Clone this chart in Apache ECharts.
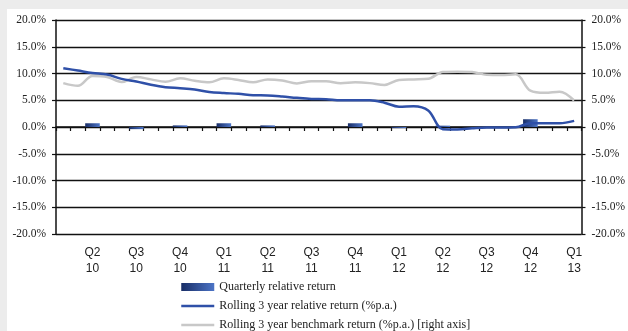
<!DOCTYPE html>
<html>
<head>
<meta charset="utf-8">
<script src="https://cdn.jsdelivr.net/npm/echarts@6/dist/echarts.min.js"></script>
<style>
  html, body { margin: 0; padding: 0; background: #ececec; }
  #chart { position: absolute; left: 7px; top: 9px; width: 621px; height: 322px; background: #ffffff; }
</style>
</head>
<body>
<div id="chart"></div>
<script>
// Month-end observations, April 2010 to March 2013
const months = [
  'Apr 10','May 10','Jun 10','Jul 10','Aug 10','Sep 10','Oct 10','Nov 10','Dec 10',
  'Jan 11','Feb 11','Mar 11','Apr 11','May 11','Jun 11','Jul 11','Aug 11','Sep 11',
  'Oct 11','Nov 11','Dec 11','Jan 12','Feb 12','Mar 12','Apr 12','May 12','Jun 12',
  'Jul 12','Aug 12','Sep 12','Oct 12','Nov 12','Dec 12','Jan 13','Feb 13','Mar 13'
];

// Quarter ends and their axis labels
const quarterMonths = ['Jun 10','Sep 10','Dec 10','Mar 11','Jun 11','Sep 11','Dec 11','Mar 12','Jun 12','Sep 12','Dec 12','Mar 13'];
const quarterTicks = ['Q2\n10','Q3\n10','Q4\n10','Q1\n11','Q2\n11','Q3\n11','Q4\n11','Q1\n12','Q2\n12','Q3\n12','Q4\n12','Q1\n13'];

// Quarterly relative return (%)
const quarterlyReturn = [0.7, -0.4, 0.3, 0.7, 0.3, 0.0, 0.7, -0.2, 0.25, 0.0, 1.45, 0.0];

// Rolling 3 year relative return (% p.a.), monthly
const rollingRelative = [
  11.0, 10.55, 10.1, 9.8, 9.0, 8.5, 7.9, 7.45, 7.25,
  7.0, 6.55, 6.35, 6.2, 5.95, 5.9, 5.7, 5.45, 5.25,
  5.2, 5.0, 5.0, 5.0, 4.55, 3.8, 3.9, 3.1, -0.4,
  -0.45, -0.25, -0.1, -0.1, -0.05, 0.7, 0.7, 0.7, 1.15
];

// Rolling 3 year benchmark return (% p.a.), monthly, right axis
const rollingBenchmark = [
  8.2, 7.7, 9.55, 9.35, 8.4, 9.35, 8.9, 8.45, 9.1,
  8.65, 8.35, 9.1, 8.8, 8.35, 8.9, 8.7, 8.15, 8.55,
  8.55, 8.2, 8.35, 8.2, 7.85, 8.8, 8.9, 9.0, 10.3,
  10.35, 10.3, 9.75, 9.7, 9.85, 6.8, 6.4, 6.6, 4.95
];

// Place each quarterly value on its quarter-end month
const barData = months.map(m => {
  const q = quarterMonths.indexOf(m);
  return q >= 0 ? quarterlyReturn[q] : null;
});

const serif = 'Liberation Serif';
const sans = 'Liberation Sans';
const ink = '#222222';
const relColor = '#2f50a8';
const benchColor = '#c8c8c8';

const chart = echarts.init(document.getElementById('chart'), null, { renderer: 'canvas' });

const pctAxis = (position) => ({
  type: 'value',
  position: position,
  min: -20,
  max: 20,
  interval: 5,
  axisLine: { show: true, lineStyle: { color: '#111', width: 1.5 } },
  axisTick: { show: true, length: 4, lineStyle: { color: '#111', width: 1.2 } },
  axisLabel: {
    margin: 10,
    fontFamily: serif,
    fontSize: 11.5,
    color: ink,
    formatter: v => v.toFixed(1) + '%'
  },
  splitLine: { show: position === 'left', lineStyle: { color: '#111', width: 1.3 } }
});

// Line legend entries show a plain stroke, no marker
const plainLine = color => ({ itemStyle: { opacity: 0 }, lineStyle: { color: color, width: 2.5 } });

chart.setOption({
  animation: false,
  grid: { left: 49, right: 44, top: 11, bottom: 97, containLabel: false },
  legend: {
    orient: 'vertical',
    left: 173,
    top: 268.5,
    height: 60,
    padding: 0,
    itemWidth: 33,
    itemHeight: 8,
    itemGap: 0,
    textStyle: { fontFamily: serif, fontSize: 12, color: ink, lineHeight: 19 },
    data: [
      { name: 'Quarterly relative return', icon: 'rect' },
      Object.assign({ name: 'Rolling 3 year relative return (%p.a.)' }, plainLine(relColor)),
      Object.assign({ name: 'Rolling 3 year benchmark return (%p.a.) [right axis]' }, plainLine(benchColor))
    ]
  },
  xAxis: [
    {
      type: 'category',
      data: months,
      position: 'bottom',
      axisLine: { show: false, onZero: false },
      axisTick: { show: false },
      axisLabel: {
        interval: 0,
        margin: 11,
        fontFamily: sans,
        fontSize: 12,
        lineHeight: 16,
        color: ink,
        formatter: v => {
          const q = quarterMonths.indexOf(v);
          return q >= 0 ? quarterTicks[q] : '';
        }
      }
    },
    {
      type: 'category',
      data: months,
      position: 'bottom',
      axisLine: { show: true, onZero: true, onZeroAxisIndex: 0, lineStyle: { color: '#111', width: 1.5 } },
      axisTick: { show: true, interval: 0, length: 4, lineStyle: { color: '#111', width: 1.2 } },
      axisLabel: { show: false }
    }
  ],
  yAxis: [pctAxis('left'), pctAxis('right')],
  series: [
    {
      name: 'Quarterly relative return',
      type: 'bar',
      xAxisIndex: 0,
      yAxisIndex: 0,
      barWidth: '100%',
      data: barData,
      itemStyle: {
        color: new echarts.graphic.LinearGradient(0, 0, 1, 0, [
          { offset: 0, color: '#182d66' },
          { offset: 1, color: '#4c74c6' }
        ])
      },
      z: 2
    },
    {
      name: 'Rolling 3 year benchmark return (%p.a.) [right axis]',
      type: 'line',
      xAxisIndex: 0,
      yAxisIndex: 1,
      data: rollingBenchmark,
      smooth: 0.35,
      symbol: 'none',
      lineStyle: { color: benchColor, width: 2.5 },
      itemStyle: { color: benchColor },
      z: 3
    },
    {
      name: 'Rolling 3 year relative return (%p.a.)',
      type: 'line',
      xAxisIndex: 0,
      yAxisIndex: 0,
      data: rollingRelative,
      smooth: 0.35,
      symbol: 'none',
      lineStyle: { color: relColor, width: 2.5 },
      itemStyle: { color: relColor },
      z: 4
    }
  ]
});
</script>
</body>
</html>
